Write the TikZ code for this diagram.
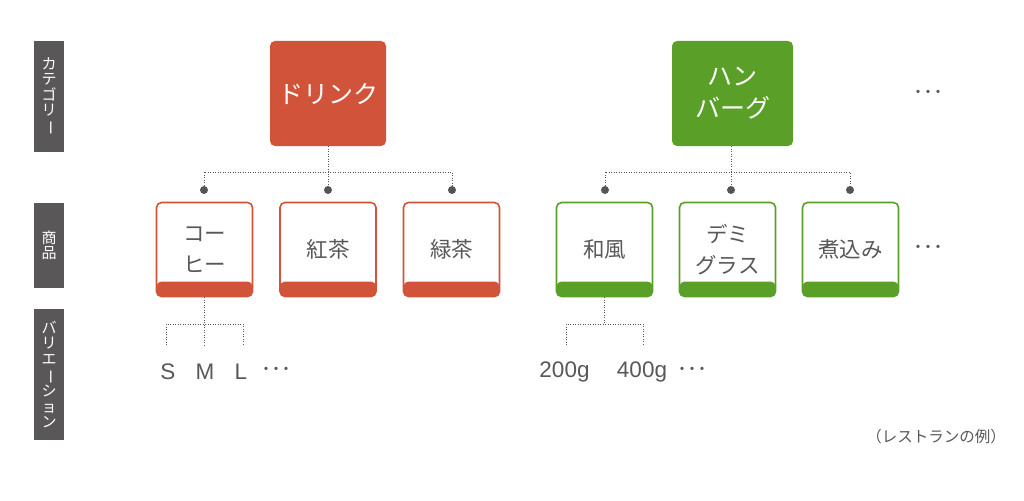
\documentclass[tikz,border=0pt]{standalone}
\usepackage{fontspec}
\setmainfont{Noto Sans CJK JP}
\newfontfamily\latinfont{Liberation Sans}
\usepackage{graphicx}
\definecolor{cred}{HTML}{D1533A}
\definecolor{cgreen}{HTML}{5A9F28}
\definecolor{cgray}{HTML}{595757}
\definecolor{ctext}{HTML}{595757}
\definecolor{cdot}{HTML}{555555}
\begin{document}
\begin{tikzpicture}[x=1pt,y=-1pt,
  side/.style={fill=cgray,minimum width=30pt,inner sep=0pt,text=white,font=\fontsize{15}{15.5}\selectfont,align=center},
  cat/.style={fill=#1,rounded corners=5pt,minimum width=116pt,minimum height=105pt,inner sep=0pt,text=white,font=\fontsize{25}{32}\selectfont,align=center},
  prod/.style={draw=#1,line width=1.6pt,fill=white,rounded corners=5pt,minimum width=96pt,minimum height=94pt,inner sep=0pt,text=ctext,font=\fontsize{21.5}{31}\selectfont,align=center,
    path picture={\fill[#1] (path picture bounding box.south west) rectangle ([yshift=15pt]path picture bounding box.east |- path picture bounding box.south);}},
  conn/.style={draw=cdot,line width=1pt,dash pattern=on 1pt off 1.5pt},
  jdot/.style={circle,fill=cdot,inner sep=0pt,minimum size=8pt},
  lab/.style={text=ctext,font=\latinfont\fontsize{22.5}{24}\selectfont,inner sep=0pt},
  more/.style={text=ctext,font=\fontsize{20}{24}\selectfont,inner sep=0pt},
  note/.style={text=ctext,font=\fontsize{15.5}{17}\selectfont,inner sep=0pt}]
\useasboundingbox (0,0) rectangle (1024,500);
% side labels
\node[side,minimum height=111pt] (s1) at (49,96.5) {カ\\テ\\ゴ\\リ\\\rotatebox[origin=c]{-90}{ー}};
\node[side,minimum height=85pt] (s2) at (49,245.5) {商\\品};
\node[side,minimum height=131pt] (s3) at (49,374.5) {バ\\リ\\エ\\\rotatebox[origin=c]{-90}{ー}\\シ\\ョ\\ン};
% categories
\node[cat=cred] (c1) at (328,93.5) {ドリンク};
\node[cat=cgreen,minimum width=121pt] (c2) at (732.5,93.5) {ハン\\バーグ};
\node[more] (m1) at (928,95) {･･･};
% products
\node[prod=cred] (p1) at (204.5,249.5) {コー\\ヒー};
\node[prod=cred] (p2) at (328,249.5) {紅茶};
\node[prod=cred] (p3) at (451.5,249.5) {緑茶};
\node[prod=cgreen] (p4) at (604.5,249.5) {和風};
\node[prod=cgreen] (p5) at (727.5,249.5) {デミ\\グラス};
\node[prod=cgreen] (p6) at (850.5,249.5) {煮込み};
\node[more] (m2) at (928,250) {･･･};
% dots
\node[jdot] (d1) at (204,190) {};
\node[jdot] (d2) at (328,190) {};
\node[jdot] (d3) at (452,190) {};
\node[jdot] (d4) at (605,190) {};
\node[jdot] (d5) at (731,190) {};
\node[jdot] (d6) at (850,190) {};
\coordinate (j1) at (328,172);
\coordinate (j2) at (731,172);
\draw[conn] (c1.south) -- (d2);
\draw[conn] (d1) |- (j1) -| (d3);
\draw[conn] (c2.south -| d5) -- (d5);
\draw[conn] (d4) |- (j2) -| (d6);
% variations
\coordinate (vS) at (166,345);
\coordinate (vM) at (204,345);
\coordinate (vL) at (243,345);
\coordinate (vj1) at (204,324);
\draw[conn] (p1.south -| vM) -- (vM);
\draw[conn] (vS) |- (vj1) -| (vL);
\node[lab] (tS) at (168,372) {S};
\node[lab] (tM) at (205,372) {M};
\node[lab] (tL) at (241,372) {L};
\node[more] (m3) at (276,372) {･･･};
\coordinate (wA) at (566,345);
\coordinate (wB) at (643,345);
\coordinate (vj2) at (604,324);
\draw[conn] (p4.south -| vj2) -- (vj2);
\draw[conn] (wA) |- (vj2) -| (wB);
\node[lab] (t200) at (564.5,372) {200g};
\node[lab] (t400) at (642,372) {400g};
\node[more] (m4) at (692,372) {･･･};
\node[note] (n1) at (936,437) {（レストランの例）};
\end{tikzpicture}
\end{document}
